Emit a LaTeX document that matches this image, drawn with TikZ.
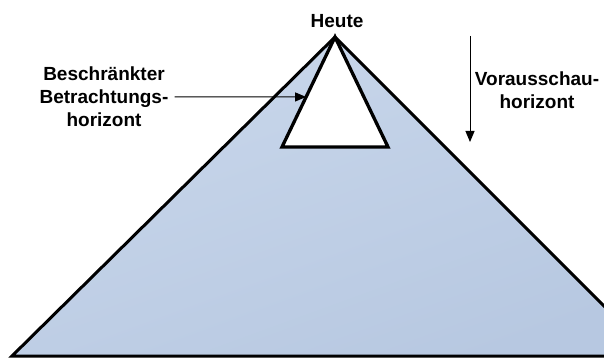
\documentclass[tikz,border=0pt]{standalone}
\usepackage{fontspec}
\setmainfont{Liberation Sans}
\usetikzlibrary{arrows.meta, positioning, calc}

\definecolor{pyrtop}{HTML}{C9D7EB}
\definecolor{pyrbot}{HTML}{B7C8E1}

\begin{document}
\begin{tikzpicture}[
    x=1pt, y=-1pt,
    label/.style={align=center, inner sep=0pt, font=\fontsize{19}{23}\selectfont\bfseries},
    pyramid/.style={draw=black, line width=3pt, line join=miter, top color=pyrtop, bottom color=pyrbot, shading angle=20},
    window/.style={draw=black, line width=3.3pt, line join=miter, fill=white},
    pointer/.style={-{Triangle[length=11pt, width=9pt]}, line width=1pt}
]
\useasboundingbox (0,0) rectangle (604,358);

% corners of the two triangles
\coordinate (apex) at (335,37);
\coordinate (bl) at (12,356);
\coordinate (br) at (654,356);
\coordinate (wl) at (282,147);
\coordinate (wr) at (388,147);

\begin{scope}
\clip (0,0) rectangle (604,358);
\draw[pyramid] (apex) -- (br) -- (bl) -- cycle;
\end{scope}
\draw[window] (apex) -- (wr) -- (wl) -- cycle;

\node[label] (today) at (337,21) {Heute};
\node[label] (limited) at (104,97) {Beschränkter\\Betrachtungs-\\horizont};
\node[label] (lookahead) at (537,90) {Vorausschau-\\horizont};

% arrows
\coordinate (hit) at ($(apex)!0.545!(wl)$);
\coordinate (downtop) at (470,36);
\coordinate (downend) at (470,142);
\draw[pointer] ([xshift=6pt]limited.east) -- (hit);
\draw[pointer] (downtop) -- (downend);
\end{tikzpicture}
\end{document}
